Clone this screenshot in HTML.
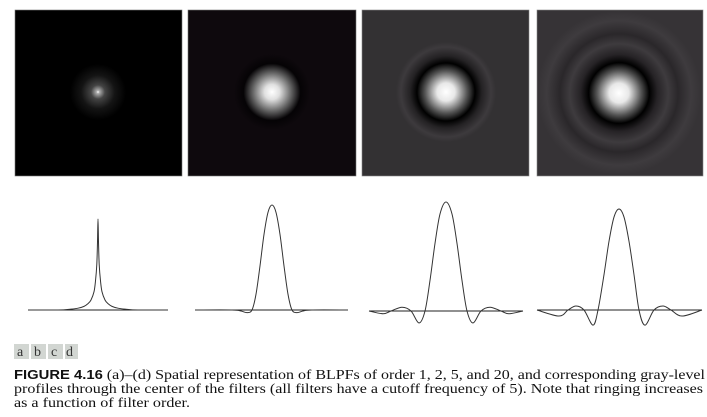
<!DOCTYPE html>
<html><head><meta charset="utf-8"><style>
html,body{margin:0;padding:0;background:#fff;}
svg{display:block;}
</style></head><body>
<svg id="fig" width="707" height="417" viewBox="0 0 707 417" xmlns="http://www.w3.org/2000/svg">
<defs>
  <radialGradient id="ga" cx="98" cy="92" r="28" gradientUnits="userSpaceOnUse">
    <stop offset="0" stop-color="#fff"/><stop offset="0.06" stop-color="#aaa"/><stop offset="0.25" stop-color="#444"/><stop offset="0.6" stop-color="#141414"/><stop offset="1" stop-color="#000"/>
  </radialGradient>
  <radialGradient id="gb" cx="272" cy="92" r="38" gradientUnits="userSpaceOnUse">
    <stop offset="0" stop-color="#fff"/><stop offset="0.2" stop-color="#e0e0e0"/><stop offset="0.5" stop-color="#666"/><stop offset="0.75" stop-color="#050305"/><stop offset="1" stop-color="#0e090d"/>
  </radialGradient>
  <radialGradient id="gc" cx="446" cy="92" r="50" gradientUnits="userSpaceOnUse">
    <stop offset="0" stop-color="#fff"/><stop offset="0.18" stop-color="#e8e8e8"/><stop offset="0.42" stop-color="#555"/><stop offset="0.58" stop-color="#000"/><stop offset="0.72" stop-color="#242224"/><stop offset="0.9" stop-color="#3d3a3d"/><stop offset="1" stop-color="#333133"/>
  </radialGradient>
  <radialGradient id="gd" cx="619" cy="93" r="82" gradientUnits="userSpaceOnUse">
    <stop offset="0" stop-color="#fff"/><stop offset="0.12" stop-color="#e8e8e8"/><stop offset="0.27" stop-color="#555"/><stop offset="0.37" stop-color="#000"/><stop offset="0.47" stop-color="#262326"/><stop offset="0.6" stop-color="#3e3b3e"/><stop offset="0.72" stop-color="#2a272a"/><stop offset="0.88" stop-color="#3e3b3e"/><stop offset="1" stop-color="#363336"/>
  </radialGradient>
</defs>
<rect x="15" y="10" width="167" height="166" fill="url(#ga)" stroke="#777" stroke-width="0.6"/>
<rect x="188" y="10" width="168" height="166" fill="url(#gb)" stroke="#777" stroke-width="0.6"/>
<rect x="362" y="10" width="167" height="166" fill="url(#gc)" stroke="#888" stroke-width="0.6"/>
<rect x="537" y="10" width="166" height="166" fill="url(#gd)" stroke="#888" stroke-width="0.6"/>
<g id="profiles"></g>

<g font-family="Liberation Serif, serif" font-size="14" fill="#333">
  <rect x="14" y="344" width="15" height="15" fill="#d2d6d2"/>
  <rect x="31" y="344" width="15" height="15" fill="#d2d6d2"/>
  <rect x="48" y="344" width="15" height="15" fill="#d2d6d2"/>
  <rect x="65" y="344" width="13" height="15" fill="#d2d6d2"/>
  <text x="17" y="356">a</text><text x="34" y="356">b</text><text x="51" y="356">c</text><text x="66" y="356">d</text>
</g>
<g font-family="Liberation Serif, serif" font-size="13.5" fill="#111">
  <text x="14" y="379" textLength="691" lengthAdjust="spacingAndGlyphs"><tspan font-family="Liberation Sans, sans-serif" font-weight="bold" font-size="12.5">FIGURE 4.16</tspan>  (a)–(d) Spatial representation of BLPFs of order 1, 2, 5, and 20, and corresponding gray-level</text>
  <text x="14" y="393" textLength="689" lengthAdjust="spacingAndGlyphs">profiles through the center of the filters (all filters have a cutoff frequency of 5). Note that ringing increases</text>
  <text x="14" y="407" textLength="176" lengthAdjust="spacingAndGlyphs">as a function of filter order.</text>
</g>
</svg>
<script>
// sample offsets (px from centre) and relative amplitude for each profile
const offsetsA = [-70,-40,-27,-20,-14,-10,-7,-4,-2.5,-1.2,-0.5,0,0.5,1.2,2.5,4,7,10,14,20,27,40,70];
const valuesA  = [0,0,0.01,0.02,0.04,0.07,0.11,0.2,0.32,0.5,0.75,1,0.75,0.5,0.32,0.2,0.11,0.07,0.04,0.02,0.01,0,0];
const offsetsB = [-77,-40,-31,-25,-20,-16,-12,-8,-4,0,4,8,12,16,20,25,31,40,76];
const valuesB  = [0,0,-0.01,-0.025,0,0.15,0.42,0.72,0.93,1,0.93,0.72,0.42,0.15,0,-0.025,-0.01,0,0];
const offsetsC = [-77,-63,-55,-44,-35,-27,-21,-16,-11,-6,0,6,11,16,21,27,35,44,55,63,77];
const valuesC  = [0,-0.025,0,0.035,0,-0.11,0,0.28,0.62,0.89,1,0.89,0.62,0.28,0,-0.11,0,0.035,0,-0.025,0];
const offsetsD = [-82,-60,-51,-43,-35,-26,-21,-15,-10,-5,0,5,10,15,20,26,35,44,52,63,83];
const valuesD  = [0,-0.06,0,0.04,0,-0.15,0,0.35,0.68,0.92,1,0.92,0.68,0.35,0,-0.15,0,0.04,0,-0.06,0];

const panels = [
  {name:'profile-a', offs:offsetsA, vals:valuesA, cx:98,  x0:28,  x1:168, base:310, h:91},
  {name:'profile-b', offs:offsetsB, vals:valuesB, cx:272, x0:195, x1:348, base:310, h:105},
  {name:'profile-c', offs:offsetsC, vals:valuesC, cx:446, x0:369, x1:523, base:311, h:109},
  {name:'profile-d', offs:offsetsD, vals:valuesD, cx:619, x0:537, x1:702, base:310, h:101}
];
const NS='http://www.w3.org/2000/svg';
const g=document.getElementById('profiles');
function catmull(pts){
  let d='M'+pts[0][0]+','+pts[0][1];
  for(let i=0;i<pts.length-1;i++){
    const p0=pts[i-1]||pts[i],p1=pts[i],p2=pts[i+1],p3=pts[i+2]||p2;
    const c1=[p1[0]+(p2[0]-p0[0])/6,p1[1]+(p2[1]-p0[1])/6];
    const c2=[p2[0]-(p3[0]-p1[0])/6,p2[1]-(p3[1]-p1[1])/6];
    d+=' C'+c1[0].toFixed(2)+','+c1[1].toFixed(2)+' '+c2[0].toFixed(2)+','+c2[1].toFixed(2)+' '+p2[0].toFixed(2)+','+p2[1].toFixed(2);
  }
  return d;
}
panels.forEach(p=>{
  const xScale=o=>p.cx+o;
  const yScale=v=>p.base-v*p.h;
  const axis=document.createElementNS(NS,'line');
  
  
  axis.setAttribute('x1',p.x0);axis.setAttribute('x2',p.x1);
  axis.setAttribute('y1',p.base);axis.setAttribute('y2',p.base);
  axis.setAttribute('stroke','#222');axis.setAttribute('stroke-width','1');
  g.appendChild(axis);
  const pts=p.offs.map((o,i)=>[xScale(o),yScale(p.vals[i])]);
  const path=document.createElementNS(NS,'path');
  
  
  path.setAttribute('d',catmull(pts));
  path.setAttribute('fill','none');path.setAttribute('stroke','#333');path.setAttribute('stroke-width','1');
  g.appendChild(path);
});
</script>
</body></html>
